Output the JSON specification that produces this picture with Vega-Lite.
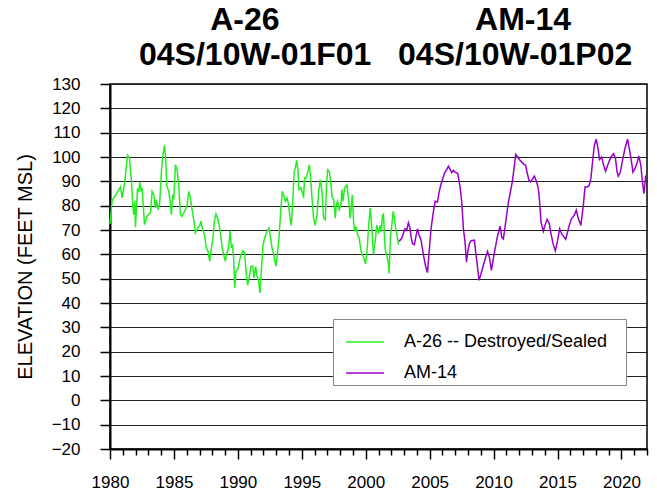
{
  "$schema": "https://vega.github.io/schema/vega-lite/v6.json",
  "width": 537,
  "height": 365,
  "autosize": {"type": "none"},
  "padding": {"left": 110, "top": 84, "right": 10, "bottom": 44},
  "background": "white",
  "config": {
    "font": "Liberation Sans",
    "view": {"stroke": "black", "strokeWidth": 1.5},
    "axisY": {
      "labelFontSize": 17,
      "labelColor": "black",
      "labelFlush": false,
      "labelOverlap": false,
      "labelPadding": 20,
      "tickSize": 10,
      "tickColor": "black",
      "tickWidth": 1.5,
      "domainColor": "black",
      "domainWidth": 2,
      "grid": true,
      "gridColor": "#222222",
      "gridWidth": 1,
      "titleFontSize": 20,
      "titleFontWeight": "normal",
      "titleColor": "black",
      "titlePadding": 16
    },
    "axisX": {
      "labelFontSize": 17,
      "labelColor": "black",
      "labelFlush": false,
      "labelOverlap": false,
      "tickColor": "black",
      "tickWidth": 1.5,
      "domainColor": "black",
      "domainWidth": 2,
      "grid": false
    }
  },
  "title": {
    "text": [
      "\u200b\u00a0\u00a0\u00a0\u00a0\u00a0\u00a0\u00a0\u00a0A-26\u00a0\u00a0\u00a0\u00a0\u00a0\u00a0\u00a0\u00a0\u00a0\u00a0\u00a0\u00a0\u00a0\u00a0\u00a0\u00a0\u00a0\u00a0\u00a0\u00a0\u00a0\u00a0AM-14",
      "04S/10W-01F01\u00a0\u00a0\u00a004S/10W-01P02"
    ],
    "font": "Liberation Sans",
    "fontSize": 32,
    "fontWeight": "bold",
    "color": "black",
    "anchor": "start",
    "frame": "group",
    "align": "left",
    "dx": 29,
    "offset": -29,
    "baseline": "bottom",
    "lineHeight": 35
  },
  "data": {"name": "wells"},
  "datasets": {
    "wells": [
      {"well": "A-26", "year": 1980.0, "elev": 72.5}, {"well": "A-26", "year": 1980.17, "elev": 82.1}, {"well": "A-26", "year": 1980.82, "elev": 87.7}, {"well": "A-26", "year": 1980.95, "elev": 83.2},
      {"well": "A-26", "year": 1981.16, "elev": 90}, {"well": "A-26", "year": 1981.37, "elev": 100.7}, {"well": "A-26", "year": 1981.52, "elev": 99.6}, {"well": "A-26", "year": 1981.68, "elev": 90},
      {"well": "A-26", "year": 1981.78, "elev": 80.4}, {"well": "A-26", "year": 1981.86, "elev": 76.3}, {"well": "A-26", "year": 1981.94, "elev": 81.8}, {"well": "A-26", "year": 1981.99, "elev": 71.1},
      {"well": "A-26", "year": 1982.15, "elev": 86.6}, {"well": "A-26", "year": 1982.25, "elev": 85.9}, {"well": "A-26", "year": 1982.33, "elev": 89.6}, {"well": "A-26", "year": 1982.43, "elev": 85.9},
      {"well": "A-26", "year": 1982.51, "elev": 87.3}, {"well": "A-26", "year": 1982.70, "elev": 72.2}, {"well": "A-26", "year": 1982.90, "elev": 75.6}, {"well": "A-26", "year": 1983.03, "elev": 76.6},
      {"well": "A-26", "year": 1983.16, "elev": 77}, {"well": "A-26", "year": 1983.29, "elev": 85.9}, {"well": "A-26", "year": 1983.42, "elev": 84.5}, {"well": "A-26", "year": 1983.55, "elev": 79},
      {"well": "A-26", "year": 1983.63, "elev": 82.5}, {"well": "A-26", "year": 1983.76, "elev": 78.4}, {"well": "A-26", "year": 1983.89, "elev": 81.1}, {"well": "A-26", "year": 1984.02, "elev": 94.1},
      {"well": "A-26", "year": 1984.13, "elev": 100.3}, {"well": "A-26", "year": 1984.26, "elev": 104.8}, {"well": "A-26", "year": 1984.36, "elev": 99.6}, {"well": "A-26", "year": 1984.44, "elev": 87.9},
      {"well": "A-26", "year": 1984.60, "elev": 85.9}, {"well": "A-26", "year": 1984.73, "elev": 80.4}, {"well": "A-26", "year": 1984.80, "elev": 76.3}, {"well": "A-26", "year": 1984.91, "elev": 84.5},
      {"well": "A-26", "year": 1984.99, "elev": 82.5}, {"well": "A-26", "year": 1985.12, "elev": 96.8}, {"well": "A-26", "year": 1985.25, "elev": 94.8}, {"well": "A-26", "year": 1985.38, "elev": 87.9},
      {"well": "A-26", "year": 1985.51, "elev": 76.3}, {"well": "A-26", "year": 1985.64, "elev": 75.6}, {"well": "A-26", "year": 1985.77, "elev": 77}, {"well": "A-26", "year": 1985.90, "elev": 78.4},
      {"well": "A-26", "year": 1986.03, "elev": 80.4}, {"well": "A-26", "year": 1986.16, "elev": 85.9}, {"well": "A-26", "year": 1986.29, "elev": 83.2}, {"well": "A-26", "year": 1986.42, "elev": 78.4},
      {"well": "A-26", "year": 1986.55, "elev": 74.2}, {"well": "A-26", "year": 1986.68, "elev": 68.8}, {"well": "A-26", "year": 1986.86, "elev": 70.8}, {"well": "A-26", "year": 1987.02, "elev": 71.9},
      {"well": "A-26", "year": 1987.12, "elev": 73.6}, {"well": "A-26", "year": 1987.25, "elev": 70.1}, {"well": "A-26", "year": 1987.38, "elev": 68.1}, {"well": "A-26", "year": 1987.54, "elev": 62.6},
      {"well": "A-26", "year": 1987.67, "elev": 61.2}, {"well": "A-26", "year": 1987.80, "elev": 57.1}, {"well": "A-26", "year": 1987.93, "elev": 62.6}, {"well": "A-26", "year": 1988.06, "elev": 66.7},
      {"well": "A-26", "year": 1988.16, "elev": 73.6}, {"well": "A-26", "year": 1988.29, "elev": 76.6}, {"well": "A-26", "year": 1988.45, "elev": 74.2}, {"well": "A-26", "year": 1988.61, "elev": 70.1},
      {"well": "A-26", "year": 1988.76, "elev": 63.3}, {"well": "A-26", "year": 1988.89, "elev": 59.9}, {"well": "A-26", "year": 1989.02, "elev": 57.1}, {"well": "A-26", "year": 1989.13, "elev": 60.5},
      {"well": "A-26", "year": 1989.28, "elev": 62.6}, {"well": "A-26", "year": 1989.39, "elev": 69.7}, {"well": "A-26", "year": 1989.49, "elev": 62.6}, {"well": "A-26", "year": 1989.57, "elev": 64.2},
      {"well": "A-26", "year": 1989.67, "elev": 58.5}, {"well": "A-26", "year": 1989.75, "elev": 46.2}, {"well": "A-26", "year": 1989.86, "elev": 53}, {"well": "A-26", "year": 1989.99, "elev": 53.7},
      {"well": "A-26", "year": 1990.12, "elev": 57.1}, {"well": "A-26", "year": 1990.25, "elev": 59.9}, {"well": "A-26", "year": 1990.40, "elev": 61.5}, {"well": "A-26", "year": 1990.53, "elev": 60.5},
      {"well": "A-26", "year": 1990.64, "elev": 53}, {"well": "A-26", "year": 1990.77, "elev": 47.3}, {"well": "A-26", "year": 1990.90, "elev": 51}, {"well": "A-26", "year": 1991.03, "elev": 55.1},
      {"well": "A-26", "year": 1991.16, "elev": 55.1}, {"well": "A-26", "year": 1991.26, "elev": 50.3}, {"well": "A-26", "year": 1991.39, "elev": 55.1}, {"well": "A-26", "year": 1991.50, "elev": 51},
      {"well": "A-26", "year": 1991.63, "elev": 48.9}, {"well": "A-26", "year": 1991.73, "elev": 44.1}, {"well": "A-26", "year": 1991.84, "elev": 53.7}, {"well": "A-26", "year": 1991.97, "elev": 64},
      {"well": "A-26", "year": 1992.10, "elev": 66.7}, {"well": "A-26", "year": 1992.23, "elev": 68.8}, {"well": "A-26", "year": 1992.43, "elev": 70.8}, {"well": "A-26", "year": 1992.56, "elev": 66.7},
      {"well": "A-26", "year": 1992.67, "elev": 62.6}, {"well": "A-26", "year": 1992.80, "elev": 59.9}, {"well": "A-26", "year": 1992.98, "elev": 55.1}, {"well": "A-26", "year": 1993.11, "elev": 61.2},
      {"well": "A-26", "year": 1993.22, "elev": 66.7}, {"well": "A-26", "year": 1993.35, "elev": 77.7}, {"well": "A-26", "year": 1993.48, "elev": 85.9}, {"well": "A-26", "year": 1993.61, "elev": 83.8},
      {"well": "A-26", "year": 1993.71, "elev": 81.8}, {"well": "A-26", "year": 1993.84, "elev": 83.2}, {"well": "A-26", "year": 1993.97, "elev": 80.4}, {"well": "A-26", "year": 1994.08, "elev": 74.9},
      {"well": "A-26", "year": 1994.18, "elev": 71.9}, {"well": "A-26", "year": 1994.28, "elev": 80.4}, {"well": "A-26", "year": 1994.41, "elev": 94.1}, {"well": "A-26", "year": 1994.49, "elev": 95.5},
      {"well": "A-26", "year": 1994.60, "elev": 98.6}, {"well": "A-26", "year": 1994.70, "elev": 94.8}, {"well": "A-26", "year": 1994.78, "elev": 86.6}, {"well": "A-26", "year": 1994.94, "elev": 87.3},
      {"well": "A-26", "year": 1995.06, "elev": 85.2}, {"well": "A-26", "year": 1995.14, "elev": 83.2}, {"well": "A-26", "year": 1995.22, "elev": 91.4}, {"well": "A-26", "year": 1995.35, "elev": 91.4},
      {"well": "A-26", "year": 1995.48, "elev": 94.1}, {"well": "A-26", "year": 1995.59, "elev": 96.8}, {"well": "A-26", "year": 1995.69, "elev": 91.4}, {"well": "A-26", "year": 1995.79, "elev": 83.8},
      {"well": "A-26", "year": 1995.92, "elev": 74.9}, {"well": "A-26", "year": 1996.05, "elev": 71.9}, {"well": "A-26", "year": 1996.21, "elev": 77}, {"well": "A-26", "year": 1996.32, "elev": 85.9},
      {"well": "A-26", "year": 1996.45, "elev": 90.7}, {"well": "A-26", "year": 1996.58, "elev": 85.9}, {"well": "A-26", "year": 1996.71, "elev": 74.9}, {"well": "A-26", "year": 1996.84, "elev": 74.2},
      {"well": "A-26", "year": 1996.94, "elev": 88.6}, {"well": "A-26", "year": 1997.02, "elev": 94.8}, {"well": "A-26", "year": 1997.15, "elev": 94.1}, {"well": "A-26", "year": 1997.28, "elev": 88.6},
      {"well": "A-26", "year": 1997.36, "elev": 83.8}, {"well": "A-26", "year": 1997.49, "elev": 82.5}, {"well": "A-26", "year": 1997.62, "elev": 74.9}, {"well": "A-26", "year": 1997.70, "elev": 80.4},
      {"well": "A-26", "year": 1997.80, "elev": 81.8}, {"well": "A-26", "year": 1997.93, "elev": 78.4}, {"well": "A-26", "year": 1998.06, "elev": 80.4}, {"well": "A-26", "year": 1998.14, "elev": 86.6},
      {"well": "A-26", "year": 1998.22, "elev": 81.8}, {"well": "A-26", "year": 1998.35, "elev": 87.3}, {"well": "A-26", "year": 1998.53, "elev": 88.6}, {"well": "A-26", "year": 1998.66, "elev": 82.5},
      {"well": "A-26", "year": 1998.79, "elev": 74.9}, {"well": "A-26", "year": 1998.87, "elev": 79}, {"well": "A-26", "year": 1998.95, "elev": 84.5}, {"well": "A-26", "year": 1999.05, "elev": 73.6},
      {"well": "A-26", "year": 1999.13, "elev": 69.5}, {"well": "A-26", "year": 1999.23, "elev": 71.5}, {"well": "A-26", "year": 1999.36, "elev": 68.1}, {"well": "A-26", "year": 1999.49, "elev": 66.7},
      {"well": "A-26", "year": 1999.60, "elev": 62.6}, {"well": "A-26", "year": 1999.70, "elev": 59.9}, {"well": "A-26", "year": 1999.86, "elev": 58.5}, {"well": "A-26", "year": 1999.99, "elev": 56},
      {"well": "A-26", "year": 2000.12, "elev": 62.6}, {"well": "A-26", "year": 2000.22, "elev": 70.8}, {"well": "A-26", "year": 2000.35, "elev": 79}, {"well": "A-26", "year": 2000.48, "elev": 70.8},
      {"well": "A-26", "year": 2000.61, "elev": 59.9}, {"well": "A-26", "year": 2000.74, "elev": 65.5}, {"well": "A-26", "year": 2000.87, "elev": 72}, {"well": "A-26", "year": 2001.00, "elev": 68.5},
      {"well": "A-26", "year": 2001.13, "elev": 71.9}, {"well": "A-26", "year": 2001.21, "elev": 69.2}, {"well": "A-26", "year": 2001.31, "elev": 76}, {"well": "A-26", "year": 2001.39, "elev": 76.5},
      {"well": "A-26", "year": 2001.52, "elev": 62}, {"well": "A-26", "year": 2001.65, "elev": 59.6}, {"well": "A-26", "year": 2001.78, "elev": 56.2}, {"well": "A-26", "year": 2001.83, "elev": 52.1},
      {"well": "A-26", "year": 2001.94, "elev": 67.8}, {"well": "A-26", "year": 2002.04, "elev": 71.9}, {"well": "A-26", "year": 2002.15, "elev": 77.7}, {"well": "A-26", "year": 2002.25, "elev": 74.7},
      {"well": "A-26", "year": 2002.35, "elev": 70.5}, {"well": "A-26", "year": 2002.46, "elev": 67.8}, {"well": "A-26", "year": 2002.56, "elev": 64},
      {"well": "AM-14", "year": 2002.61, "elev": 65.3}, {"well": "AM-14", "year": 2002.82, "elev": 66.7}, {"well": "AM-14", "year": 2002.98, "elev": 69.2}, {"well": "AM-14", "year": 2003.08, "elev": 70.5},
      {"well": "AM-14", "year": 2003.21, "elev": 69.9}, {"well": "AM-14", "year": 2003.34, "elev": 73}, {"well": "AM-14", "year": 2003.45, "elev": 71.2}, {"well": "AM-14", "year": 2003.55, "elev": 67.1},
      {"well": "AM-14", "year": 2003.66, "elev": 64.4}, {"well": "AM-14", "year": 2003.81, "elev": 64}, {"well": "AM-14", "year": 2003.94, "elev": 67.8}, {"well": "AM-14", "year": 2004.05, "elev": 70.5},
      {"well": "AM-14", "year": 2004.18, "elev": 67.8}, {"well": "AM-14", "year": 2004.33, "elev": 65.8}, {"well": "AM-14", "year": 2004.52, "elev": 59.6}, {"well": "AM-14", "year": 2004.70, "elev": 54.8},
      {"well": "AM-14", "year": 2004.83, "elev": 52.5}, {"well": "AM-14", "year": 2004.98, "elev": 62.3}, {"well": "AM-14", "year": 2005.11, "elev": 70.5}, {"well": "AM-14", "year": 2005.27, "elev": 76.7},
      {"well": "AM-14", "year": 2005.43, "elev": 81.8}, {"well": "AM-14", "year": 2005.61, "elev": 81.5}, {"well": "AM-14", "year": 2005.74, "elev": 85.6}, {"well": "AM-14", "year": 2005.87, "elev": 88.4},
      {"well": "AM-14", "year": 2006.03, "elev": 91.1}, {"well": "AM-14", "year": 2006.18, "elev": 93.6}, {"well": "AM-14", "year": 2006.34, "elev": 94.8}, {"well": "AM-14", "year": 2006.47, "elev": 96.2},
      {"well": "AM-14", "year": 2006.60, "elev": 94.9}, {"well": "AM-14", "year": 2006.73, "elev": 93.6}, {"well": "AM-14", "year": 2006.86, "elev": 94.5}, {"well": "AM-14", "year": 2006.99, "elev": 93.8},
      {"well": "AM-14", "year": 2007.20, "elev": 93.2}, {"well": "AM-14", "year": 2007.38, "elev": 87.7}, {"well": "AM-14", "year": 2007.51, "elev": 81.5}, {"well": "AM-14", "year": 2007.64, "elev": 70.5},
      {"well": "AM-14", "year": 2007.77, "elev": 65}, {"well": "AM-14", "year": 2007.88, "elev": 56.8}, {"well": "AM-14", "year": 2007.98, "elev": 61}, {"well": "AM-14", "year": 2008.11, "elev": 64.4},
      {"well": "AM-14", "year": 2008.24, "elev": 65.6}, {"well": "AM-14", "year": 2008.50, "elev": 65.8}, {"well": "AM-14", "year": 2008.60, "elev": 61}, {"well": "AM-14", "year": 2008.73, "elev": 55.5},
      {"well": "AM-14", "year": 2008.86, "elev": 49.3}, {"well": "AM-14", "year": 2009.02, "elev": 52}, {"well": "AM-14", "year": 2009.20, "elev": 55.5}, {"well": "AM-14", "year": 2009.39, "elev": 58.9},
      {"well": "AM-14", "year": 2009.52, "elev": 61.2}, {"well": "AM-14", "year": 2009.67, "elev": 58.9}, {"well": "AM-14", "year": 2009.83, "elev": 53.4}, {"well": "AM-14", "year": 2009.98, "elev": 58.2},
      {"well": "AM-14", "year": 2010.17, "elev": 63.7}, {"well": "AM-14", "year": 2010.32, "elev": 67.8}, {"well": "AM-14", "year": 2010.51, "elev": 71.6}, {"well": "AM-14", "year": 2010.64, "elev": 67.1},
      {"well": "AM-14", "year": 2010.77, "elev": 66.4}, {"well": "AM-14", "year": 2010.95, "elev": 73.3}, {"well": "AM-14", "year": 2011.16, "elev": 81.5}, {"well": "AM-14", "year": 2011.29, "elev": 84.9},
      {"well": "AM-14", "year": 2011.47, "elev": 90}, {"well": "AM-14", "year": 2011.63, "elev": 96.6}, {"well": "AM-14", "year": 2011.73, "elev": 101.1}, {"well": "AM-14", "year": 2011.89, "elev": 100},
      {"well": "AM-14", "year": 2012.02, "elev": 99}, {"well": "AM-14", "year": 2012.20, "elev": 97.9}, {"well": "AM-14", "year": 2012.38, "elev": 97}, {"well": "AM-14", "year": 2012.51, "elev": 96.6},
      {"well": "AM-14", "year": 2012.64, "elev": 93.2}, {"well": "AM-14", "year": 2012.77, "elev": 90.4}, {"well": "AM-14", "year": 2012.90, "elev": 89.7}, {"well": "AM-14", "year": 2013.03, "elev": 90.8},
      {"well": "AM-14", "year": 2013.19, "elev": 92.1}, {"well": "AM-14", "year": 2013.37, "elev": 89.7}, {"well": "AM-14", "year": 2013.50, "elev": 87}, {"well": "AM-14", "year": 2013.58, "elev": 82.9},
      {"well": "AM-14", "year": 2013.71, "elev": 73.3}, {"well": "AM-14", "year": 2013.89, "elev": 69.5}, {"well": "AM-14", "year": 2014.02, "elev": 71.9}, {"well": "AM-14", "year": 2014.18, "elev": 74.4},
      {"well": "AM-14", "year": 2014.36, "elev": 72.6}, {"well": "AM-14", "year": 2014.49, "elev": 68.5}, {"well": "AM-14", "year": 2014.65, "elev": 64.4}, {"well": "AM-14", "year": 2014.83, "elev": 61.4},
      {"well": "AM-14", "year": 2015.01, "elev": 65.8}, {"well": "AM-14", "year": 2015.17, "elev": 70.5}, {"well": "AM-14", "year": 2015.32, "elev": 68.5}, {"well": "AM-14", "year": 2015.45, "elev": 67.5},
      {"well": "AM-14", "year": 2015.64, "elev": 66.2}, {"well": "AM-14", "year": 2015.79, "elev": 69.2}, {"well": "AM-14", "year": 2015.92, "elev": 71.9}, {"well": "AM-14", "year": 2016.10, "elev": 74.7},
      {"well": "AM-14", "year": 2016.31, "elev": 76}, {"well": "AM-14", "year": 2016.47, "elev": 78.1}, {"well": "AM-14", "year": 2016.63, "elev": 74.7}, {"well": "AM-14", "year": 2016.83, "elev": 71.9},
      {"well": "AM-14", "year": 2017.02, "elev": 80.1}, {"well": "AM-14", "year": 2017.15, "elev": 87.7}, {"well": "AM-14", "year": 2017.33, "elev": 87.7}, {"well": "AM-14", "year": 2017.48, "elev": 88.4},
      {"well": "AM-14", "year": 2017.61, "elev": 91.1}, {"well": "AM-14", "year": 2017.74, "elev": 97.9}, {"well": "AM-14", "year": 2017.88, "elev": 104.8}, {"well": "AM-14", "year": 2018.03, "elev": 107.3},
      {"well": "AM-14", "year": 2018.19, "elev": 102.7}, {"well": "AM-14", "year": 2018.29, "elev": 99}, {"well": "AM-14", "year": 2018.45, "elev": 100}, {"well": "AM-14", "year": 2018.61, "elev": 96.6},
      {"well": "AM-14", "year": 2018.76, "elev": 94.1}, {"well": "AM-14", "year": 2018.92, "elev": 96.6}, {"well": "AM-14", "year": 2019.07, "elev": 98.6}, {"well": "AM-14", "year": 2019.23, "elev": 100.4},
      {"well": "AM-14", "year": 2019.39, "elev": 101.4}, {"well": "AM-14", "year": 2019.54, "elev": 99.3}, {"well": "AM-14", "year": 2019.65, "elev": 94.1}, {"well": "AM-14", "year": 2019.75, "elev": 92.1},
      {"well": "AM-14", "year": 2019.91, "elev": 93.6}, {"well": "AM-14", "year": 2020.06, "elev": 97.9}, {"well": "AM-14", "year": 2020.27, "elev": 103.4}, {"well": "AM-14", "year": 2020.48, "elev": 107.3},
      {"well": "AM-14", "year": 2020.64, "elev": 102.7}, {"well": "AM-14", "year": 2020.79, "elev": 97.9}, {"well": "AM-14", "year": 2020.90, "elev": 93.8}, {"well": "AM-14", "year": 2021.05, "elev": 95.2},
      {"well": "AM-14", "year": 2021.21, "elev": 97.3}, {"well": "AM-14", "year": 2021.36, "elev": 100.4}, {"well": "AM-14", "year": 2021.52, "elev": 96.6}, {"well": "AM-14", "year": 2021.63, "elev": 90.4},
      {"well": "AM-14", "year": 2021.76, "elev": 84.9}, {"well": "AM-14", "year": 2021.89, "elev": 91.8}, {"well": "AM-14", "year": 2021.96, "elev": 91.1}
    ]
  },
  "mark": {"type": "line", "strokeWidth": 1.5},
  "encoding": {
    "x": {
      "field": "year",
      "type": "quantitative",
      "scale": {"domain": [1980, 2022], "nice": false, "zero": false},
      "axis": {
        "values": [1980, 1981, 1982, 1983, 1984, 1985, 1986, 1987, 1988, 1989, 1990, 1991, 1992, 1993, 1994, 1995, 1996, 1997, 1998, 1999, 2000, 2001, 2002, 2003, 2004, 2005, 2006, 2007, 2008, 2009, 2010, 2011, 2012, 2013, 2014, 2015, 2016, 2017, 2018, 2019, 2020, 2021, 2022],
        "labelExpr": "datum.value % 5 == 0 ? format(datum.value, 'd') : ''",
        "tickSize": {"condition": {"test": "datum.value % 5 == 0", "value": 10}, "value": 6},
        "labelPadding": 15,
        "title": null
      }
    },
    "y": {
      "field": "elev",
      "type": "quantitative",
      "scale": {"domain": [-20, 130], "nice": false, "zero": false},
      "axis": {
        "values": [-20, -10, 0, 10, 20, 30, 40, 50, 60, 70, 80, 90, 100, 110, 120, 130],
        "title": "ELEVATION (FEET MSL)"
      }
    },
    "color": {
      "field": "well",
      "type": "nominal",
      "scale": {"domain": ["A-26", "AM-14"], "range": ["#22ee22", "#9900cc"]},
      "legend": {
        "orient": "none",
        "legendX": 223,
        "legendY": 235,
        "title": null,
        "fillColor": "white",
        "strokeColor": "#888888",
        "padding": 3,
        "symbolOffset": 9,
        "symbolType": "stroke",
        "symbolSize": 1444,
        "symbolStrokeWidth": 1.5,
        "labelFontSize": 18,
        "labelColor": "black",
        "labelLimit": 400,
        "labelOffset": 19,
        "rowPadding": 2,
        "labelExpr": "datum.label == 'A-26' ? 'A-26 -- Destroyed/Sealed\u00a0\u00a0\u00a0\u200b' : datum.label"
      }
    }
  }
}
